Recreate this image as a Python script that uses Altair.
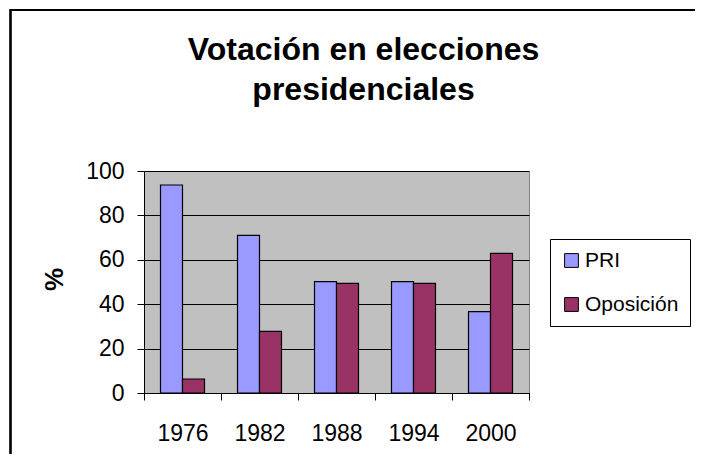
import altair as alt
import pandas as pd

years = ["1976", "1982", "1988", "1994", "2000"]
series = ["PRI", "Oposición"]
pri = [93.7, 71.0, 50.2, 50.2, 36.7]
oposicion = [6.3, 27.8, 49.4, 49.4, 62.9]
colors = ["#9999FF", "#993366"]
y_ticks = [0, 20, 40, 60, 80, 100]
title_lines = ["Votación en elecciones", "presidenciales"]

rows = []
for i, yr in enumerate(years):
    rows.append({"year": yr, "serie": series[0], "value": pri[i]})
    rows.append({"year": yr, "serie": series[1], "value": oposicion[i]})
df = pd.DataFrame(rows)

FONT = "Liberation Sans"
W, H = 385, 222

bars = alt.Chart(df).mark_bar(stroke="black", strokeWidth=1.2).encode(
    x=alt.X("year:N", sort=years, title=None,
            scale=alt.Scale(paddingInner=0, paddingOuter=0),
            axis=alt.Axis(labelAngle=0, tickBand="extent", tickSize=7, tickColor="black",
                          domainColor="black", labelFontSize=23, labelPadding=22,
                          labelColor="black", grid=False)),
    xOffset=alt.XOffset("serie:N", sort=series,
                        scale=alt.Scale(paddingInner=0, paddingOuter=0.75)),
    y=alt.Y("value:Q", title="%",
            scale=alt.Scale(domain=[0, 100], nice=False),
            axis=alt.Axis(values=y_ticks, tickSize=7, tickColor="black", domainColor="black",
                          gridColor="black", gridWidth=1, labelFontSize=23, labelPadding=13,
                          labelColor="black", titleFontSize=26, titleFontWeight="bold",
                          titleColor="black", titleX=-90, titleY=108, titleBaseline="middle")),
    color=alt.Color("serie:N", sort=series, title=None,
                    scale=alt.Scale(domain=series, range=colors),
                    legend=alt.Legend(orient="none", legendX=406, legendY=68,
                                      symbolType="square", symbolSize=190,
                                      symbolStrokeColor="black", symbolStrokeWidth=1,
                                      labelFontSize=21, labelColor="black", labelOffset=3,
                                      strokeColor="black", fillColor="white", padding=11,
                                      rowPadding=22, cornerRadius=0)),
)

frame = alt.Chart(df).mark_rect(filled=False, stroke="black", strokeWidth=1.3).encode(
    x=alt.value(-133.5), x2=alt.value(700), y=alt.value(-161), y2=alt.value(600)
)

title = alt.Chart(pd.DataFrame({"t": [0]})).mark_text(
    text=title_lines, font=FONT, fontSize=32, fontWeight="bold", color="black",
    align="center", baseline="alphabetic", lineHeight=40
).encode(x=alt.value(219.5), y=alt.value(-111))

chart = alt.layer(frame, bars, title).properties(
    width=W, height=H,
    autosize=alt.AutoSizeParams(type="none"),
    padding={"left": 136, "top": 163, "right": 166, "bottom": 61},
).configure(font=FONT).configure_view(
    fill="#C0C0C0", stroke="#808080", strokeWidth=1
).configure_axis(labelFont=FONT, titleFont=FONT)

chart.save("out.html", embed_options={"renderer": "svg", "actions": False})
